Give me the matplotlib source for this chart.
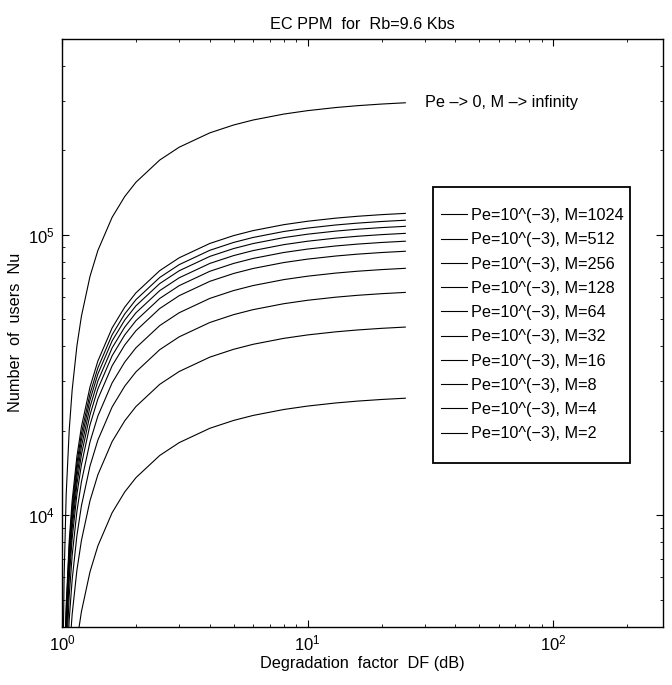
import matplotlib
matplotlib.use("Agg")
import matplotlib.pyplot as plt
from matplotlib.patches import Rectangle
import numpy as np

plt.rcParams['font.family'] = ['Liberation Sans', 'DejaVu Sans']
plt.rcParams['mathtext.fontset'] = 'custom'
plt.rcParams['mathtext.rm'] = 'Liberation Sans'
plt.rcParams['mathtext.it'] = 'Liberation Sans:italic'
plt.rcParams['font.size'] = 11.7

# Degradation factor samples (x) and the common relative curve shape
df = [1.01, 1.02, 1.04, 1.07, 1.1, 1.15, 1.2, 1.3, 1.4, 1.6, 1.8, 2.0, 2.5, 3.0,
      4.0, 5.0, 6.0, 8.0, 10.0, 13.0, 16.0, 20.0, 25.0]
shape = [0.0103, 0.0204, 0.0401, 0.0681, 0.0947, 0.1359, 0.1736, 0.2404, 0.2976,
         0.3906, 0.4630, 0.5208, 0.625, 0.6944, 0.7813, 0.8333, 0.8681, 0.9115,
         0.9375, 0.9615, 0.9766, 0.9896, 1.0]

# Number of users at DF = 25 for each curve
m_values = [1024, 512, 256, 128, 64, 32, 16, 8, 4, 2]
nu_end = [1.19e5, 1.125e5, 1.07e5, 1.01e5, 9.47e4, 8.72e4, 7.58e4, 6.22e4, 4.68e4, 2.61e4]
nu_end_inf = 2.95e5

labels = [f"Pe=10^(\u22123), M={m}" for m in m_values]

W, H = 672, 685
AX_L, AX_R, AX_T, AX_B = 62, 663, 38.5, 626.7

fig = plt.figure(figsize=(W / 100, H / 100), dpi=100)
ax = fig.add_axes([AX_L / W, 1 - AX_B / H, (AX_R - AX_L) / W, (AX_B - AX_T) / H])

df_arr = np.array(df)
shape_arr = np.array(shape)
ax.plot(df_arr, nu_end_inf * shape_arr, color='black', lw=0.8)
handles = []
for lab, ne in zip(labels, nu_end):
    h, = ax.plot(df_arr, ne * shape_arr, color='black', lw=0.8, label=lab)
    handles.append(h)

ax.set_xscale('log')
ax.set_yscale('log')
ax.set_xlim(1, 280)
ax.set_ylim(4000, 5e5)

ax.text(30, nu_end_inf, "Pe \u2013> 0, M \u2013> infinity", ha='left', va='center', fontsize=11.7)

ax.tick_params(which='both', direction='in', top=True, right=True)
ax.tick_params(which='major', length=5, width=0.8, labelsize=12, pad=5)
ax.tick_params(which='minor', length=2.5, width=0.6)
for s in ax.spines.values():
    s.set_linewidth(1.0)

ax.set_title("EC PPM  for  Rb=9.6 Kbs", fontsize=11.7, pad=7)
ax.set_xlabel("Degradation  factor  DF (dB)", fontsize=11.7, labelpad=2)
ax.set_ylabel("Number  of  users  Nu", fontsize=11.7, labelpad=4)

def px_to_axes(x, y):
    return (x - AX_L) / (AX_R - AX_L), 1 - (y - AX_T) / (AX_B - AX_T)

# legend frame drawn separately (pixels 433..630 x 187..463)
x0, y1 = px_to_axes(433, 187)
x1, y0 = px_to_axes(630, 463)
ax.add_patch(Rectangle((x0, y0), x1 - x0, y1 - y0, transform=ax.transAxes,
                       facecolor='white', edgecolor='black', lw=1.3, zorder=4))
lx, ly = px_to_axes(441, 208)
leg = ax.legend(handles=handles, loc='upper left', bbox_to_anchor=(lx, ly),
                borderaxespad=0, frameon=False, borderpad=0, labelspacing=0.57,
                handlelength=1.6, handletextpad=0.25, fontsize=11.7)
leg.set_zorder(5)

fig.savefig("out.png", dpi=100)
